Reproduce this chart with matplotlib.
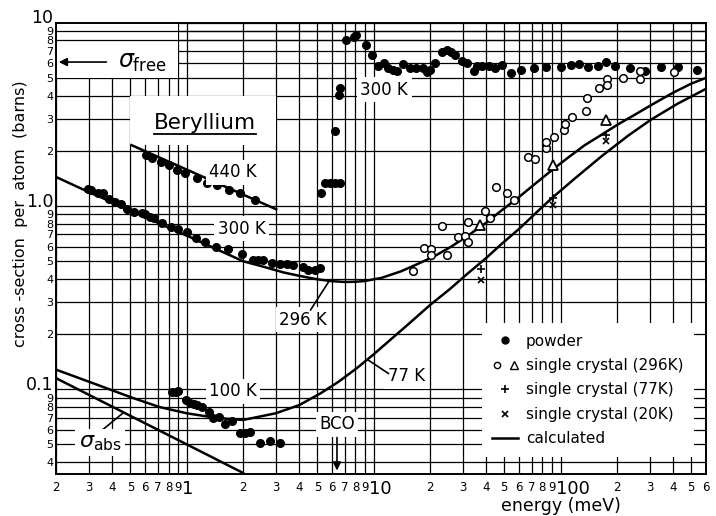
import numpy as np
import matplotlib
matplotlib.use("Agg")
import matplotlib.pyplot as plt
import matplotlib.transforms as mtransforms
from matplotlib.lines import Line2D
from matplotlib.patches import Rectangle
from matplotlib.legend_handler import HandlerTuple
from matplotlib.ticker import FixedLocator, FuncFormatter

plt.rcParams["font.family"] = "DejaVu Sans"
plt.rcParams["mathtext.fontset"] = "dejavusans"

# ==== data (energy in meV, cross-section in barns) ====
# powder, 300 K below the Bragg cut-off
e_pow300 = [0.298, 0.308, 0.335, 0.355, 0.382, 0.412, 0.448, 0.480, 0.521, 0.578,
            0.602, 0.640, 0.667, 0.734, 0.820, 0.902, 1.01, 1.12, 1.25, 1.44,
            1.67, 1.97, 2.27, 2.41, 2.56, 2.86, 3.16, 3.45, 3.71, 4.2, 4.47, 4.88, 5.19]
s_pow300 = [1.24, 1.22, 1.18, 1.17, 1.09, 1.05, 1.03, 0.96, 0.93, 0.92,
            0.90, 0.87, 0.86, 0.81, 0.77, 0.75, 0.72, 0.67, 0.64, 0.60,
            0.58, 0.55, 0.51, 0.51, 0.51, 0.486, 0.482, 0.482, 0.476, 0.466, 0.45, 0.45, 0.457]
# powder, 300 K through the Bragg edge and above
e_pow_hi = [5.24, 5.52, 5.87, 6.24, 6.58, 6.24, 6.52, 6.64, 7.14, 7.84, 8.08,
            9.09, 9.76, 10.5, 11.3, 12.0, 12.7, 13.3, 14.4, 15.6, 16.9, 18.3, 19.3,
            20.1, 21.4, 23.2, 24.7, 25.9, 27.4, 29.7, 31.6, 34.4, 35.8, 38.1, 41.4,
            44.4, 48.8, 54.0, 61.7, 72.2, 83.4, 100, 114, 126, 140, 158, 175, 195,
            234, 284, 346, 426, 534]
s_pow_hi = [1.17, 1.33, 1.33, 1.33, 1.33, 2.58, 4.01, 4.40, 8.05, 8.40, 8.57,
            7.57, 6.67, 5.77, 6.01, 5.69, 5.53, 5.46, 5.93, 5.65, 5.65, 5.65, 5.37,
            5.53, 6.01, 6.96, 7.11, 6.96, 6.67, 6.19, 6.01, 5.46, 5.77, 5.84, 5.81,
            5.69, 5.89, 5.30, 5.53, 5.65, 5.72, 5.72, 5.89, 5.93, 5.72, 5.77, 6.09, 5.81,
            5.65, 5.46, 5.72, 5.72, 5.53]
# powder, 440 K
e_pow440 = [0.607, 0.654, 0.725, 0.803, 0.891, 0.979, 1.13, 1.29, 1.46, 1.68, 1.94, 2.32]
s_pow440 = [1.89, 1.82, 1.74, 1.67, 1.58, 1.51, 1.43, 1.34, 1.30, 1.23, 1.17, 1.08]
# powder, 100 K
e_pow100 = [0.838, 0.873, 0.898, 0.996, 1.045, 1.09, 1.14, 1.21, 1.31, 1.38, 1.49,
            1.60, 1.74, 1.93, 2.05, 2.17, 2.47, 2.79, 3.16]
s_pow100 = [0.0963, 0.097, 0.0984, 0.0879, 0.0846, 0.0829, 0.0818, 0.0801, 0.0750,
            0.0698, 0.0705, 0.0643, 0.0670, 0.0579, 0.0579, 0.0586, 0.0511, 0.0521, 0.0511]

# single crystal 296 K (circles and triangles), 77 K (+), 20 K (x)
e_sc296 = [16.3, 18.6, 20.2, 20.4, 23.1, 24.7, 28.2, 30.8, 32.1, 32.1, 39.5, 42.2,
           45.3, 51.9, 56.1, 67.0, 72.8, 83.4, 83.4, 92.1, 104, 106, 115, 137, 138,
           161, 177, 177, 215, 265, 265, 405]
s_sc296 = [0.44, 0.59, 0.58, 0.54, 0.78, 0.54, 0.68, 0.69, 0.82, 0.635, 0.94, 0.86,
           1.27, 1.18, 1.08, 1.85, 1.81, 2.06, 2.24, 2.37, 2.59, 2.81, 3.06, 3.31, 3.88,
           4.43, 4.94, 4.59, 4.98, 5.42, 4.94, 5.35]
e_sc296_tri = [37.3, 90.6, 175]
s_sc296_tri = [0.785, 1.67, 2.96]
e_sc77 = [37.6, 90.6, 175]
s_sc77 = [0.453, 1.11, 2.45]
e_sc20 = [37.6, 91.5, 175]
s_sc20 = [0.395, 1.01, 2.26]

# calculated curves
e_calc300 = [0.2, 0.3, 0.5, 0.7, 1.0, 1.4, 2.0, 2.6, 3.3, 4.0, 5.0, 6.0, 7.0, 8.0,
             9.0, 11, 14, 17, 21, 26, 32, 40, 48, 60, 73, 90, 110, 135, 166, 202,
             250, 305, 400, 500, 600]
s_calc300 = [1.44, 1.19, 0.95, 0.81, 0.69, 0.59, 0.50, 0.465, 0.434, 0.416, 0.398,
             0.389, 0.385, 0.386, 0.39, 0.405, 0.44, 0.48, 0.53, 0.60, 0.69, 0.81,
             0.94, 1.12, 1.32, 1.57, 1.84, 2.15, 2.45, 2.78, 3.15, 3.55, 4.15, 4.65, 5.0]
e_calc440 = [0.506, 3.01]
s_calc440 = [2.15, 0.96]
e_calc77 = [0.2, 0.3, 0.515, 0.716, 1.0, 1.33, 1.65, 2.0, 3.0, 4.0, 5.2, 6.5, 8.1,
            10, 12.2, 15, 20.1, 25.4, 31.6, 40, 48.3, 60, 75, 89.5, 120, 166, 230,
            305, 420, 600]
s_calc77 = [0.128, 0.110, 0.0897, 0.080, 0.074, 0.0707, 0.069, 0.068, 0.074, 0.082,
            0.095, 0.110, 0.130, 0.155, 0.185, 0.222, 0.289, 0.350, 0.425, 0.52, 0.62,
            0.75, 0.93, 1.10, 1.42, 1.87, 2.42, 2.96, 3.6, 4.36]
e_abs = [0.2, 2.0]
s_abs = [0.115, 0.035]

sigma_free = 6.1
e_bco = 6.37

# ==== figure ====
fig = plt.figure(figsize=(7.16, 5.16), dpi=100)
ax = fig.add_axes([56 / 716, 1 - 474 / 516, 650 / 716, 451.3 / 516])
ax.set_xscale("log")
ax.set_yscale("log")
ax.set_xlim(0.2, 600)
ax.set_ylim(0.0345, 10)

# log-paper grid with labels on every line
xmaj = [1, 10, 100]
xmin = [m * 10.0 ** k for k in (-1, 0, 1, 2) for m in range(2, 10)]
xmin = [v for v in xmin if 0.2 <= v <= 600]
ymaj = [0.1, 1.0, 10]
ymin = [m * 10.0 ** k for k in (-2, -1, 0) for m in range(2, 10)]
ymin = [v for v in ymin if 0.0345 <= v <= 10]


def first_digit(v, p):
    return f"{round(v / 10 ** np.floor(np.log10(v) + 1e-9)):d}"


ax.xaxis.set_major_locator(FixedLocator(xmaj))
ax.xaxis.set_minor_locator(FixedLocator(xmin))
ax.yaxis.set_major_locator(FixedLocator(ymaj))
ax.yaxis.set_minor_locator(FixedLocator(ymin))
ax.xaxis.set_major_formatter(FuncFormatter(lambda v, p: f"{v:g}"))
ax.xaxis.set_minor_formatter(FuncFormatter(first_digit))
ax.yaxis.set_major_formatter(FuncFormatter(lambda v, p: {0.1: "0.1", 1.0: "1.0", 10: "10"}.get(v, "")))
ax.yaxis.set_minor_formatter(FuncFormatter(first_digit))
ax.tick_params(which="both", length=0)
ax.tick_params(axis="x", which="major", labelsize=13, pad=4)
ax.tick_params(axis="x", which="minor", labelsize=8.5, pad=5)
ax.tick_params(axis="y", which="major", labelsize=12.5, pad=2)
ax.tick_params(axis="y", which="minor", labelsize=8, pad=2)
shift_x = mtransforms.ScaledTranslation(-3 / 72, 0, fig.dpi_scale_trans)
for lab in ax.xaxis.get_majorticklabels():
    lab.set_horizontalalignment("left")
    lab.set_transform(lab.get_transform() + shift_x)
shift_y = mtransforms.ScaledTranslation(0, 4.5 / 72, fig.dpi_scale_trans)
for lab in ax.yaxis.get_majorticklabels():
    lab.set_transform(lab.get_transform() + shift_y)
ax.grid(which="both", color="black", lw=0.9)
ax.set_axisbelow(True)
for sp in ax.spines.values():
    sp.set_linewidth(1.4)

# white areas of the original drawing
ax.add_patch(Rectangle((0.2, 5.0), 0.9 - 0.2, 10 - 5.0, facecolor="white",
                       edgecolor="none", zorder=1))
ax.add_patch(Rectangle((0.5, 2.15), 3.0 - 0.5, 4.0 - 2.15, facecolor="white",
                       edgecolor="none", zorder=1))
for yl in (8, 9):
    ax.axhline(yl, color="black", lw=0.9, zorder=1.5)

# calculated lines
lw = 1.8
ax.plot(e_calc300, s_calc300, color="black", lw=lw, zorder=3)
ax.plot(e_calc440, s_calc440, color="black", lw=lw, zorder=3)
ax.plot(e_calc77, s_calc77, color="black", lw=lw, zorder=3)
ax.plot(e_abs, s_abs, color="black", lw=lw, zorder=3)

# measurements
ms = 5.5
for e, s in [(e_pow300, s_pow300), (e_pow_hi, s_pow_hi), (e_pow440, s_pow440), (e_pow100, s_pow100)]:
    ax.plot(e, s, "o", color="black", ms=ms, zorder=4, ls="none")
ax.plot(e_sc296, s_sc296, "o", mfc="white", mec="black", mew=1.1, ms=5.5, ls="none", zorder=4)
ax.plot(e_sc296_tri, s_sc296_tri, "^", mfc="white", mec="black", mew=1.3, ms=7, ls="none", zorder=4)
ax.plot(e_sc77, s_sc77, "+", color="black", mew=1.2, ms=6, ls="none", zorder=4)
ax.plot(e_sc20, s_sc20, "x", color="black", mew=1.2, ms=4.5, ls="none", zorder=4)

# labels
box = dict(facecolor="white", edgecolor="none", pad=2.5)
t = ax.text(1.25, 2.83, "Beryllium", fontsize=15.5, ha="center", va="center", zorder=5)
ax.text(1.77, 1.53, "440 K", fontsize=12, ha="center", va="center", bbox=box, zorder=5)
ax.text(1.97, 0.75, "300 K", fontsize=12, ha="center", va="center", bbox=box, zorder=5)
ax.text(11.4, 4.3, "300 K", fontsize=12, ha="center", va="center", bbox=box, zorder=5)
ax.text(1.77, 0.0975, "100 K", fontsize=12, ha="center", va="center", bbox=box, zorder=5)
ax.text(4.2, 0.24, "296 K", fontsize=12, ha="center", va="center", bbox=box, zorder=5)
ax.plot([4.6, 5.75], [0.271, 0.386], color="black", lw=1.2, zorder=5)
ax.text(15.0, 0.118, "77 K", fontsize=12, ha="center", va="center", bbox=box, zorder=5)
ax.plot([9.3, 12.0], [0.145, 0.122], color="black", lw=1.2, zorder=5)
ax.text(0.345, 0.051, r"$\sigma_{\rm abs}$", fontsize=16, ha="center", va="center", bbox=box, zorder=5)
ax.plot([0.34, 0.455], [0.058, 0.074], color="black", lw=1.2, zorder=4)
ax.text(e_bco, 0.0643, "BCO", fontsize=12, ha="center", va="center", bbox=box, zorder=5)
ax.annotate("", xy=(e_bco, 0.0348), xytext=(e_bco, 0.0565),
            arrowprops=dict(arrowstyle="-|>", color="black", lw=1.2, mutation_scale=12), zorder=5)
ax.annotate("", xy=(0.2, sigma_free), xytext=(0.385, sigma_free),
            arrowprops=dict(arrowstyle="-|>", color="black", lw=1.2, mutation_scale=12), zorder=5)
ax.text(0.43, sigma_free, r"$\sigma_{\rm free}$", fontsize=17, ha="left", va="center", zorder=5)

# underline for the title word
fig.canvas.draw()
bb = t.get_window_extent()
fig.add_artist(Line2D([bb.x0 / fig.dpi / 7.16, bb.x1 / fig.dpi / 7.16],
                      [(bb.y0 - 1) / fig.dpi / 5.16] * 2, color="black", lw=1.3, zorder=6))

# legend
h_pow = Line2D([], [], marker="o", color="black", ls="none", ms=5)
h_c = Line2D([], [], marker="o", mfc="white", mec="black", ls="none", ms=4.5)
h_t = Line2D([], [], marker="^", mfc="white", mec="black", ls="none", ms=6)
h_p = Line2D([], [], marker="+", color="black", ls="none", ms=6, mew=1.2)
h_x = Line2D([], [], marker="x", color="black", ls="none", ms=4.5, mew=1.2)
h_l = Line2D([], [], color="black", lw=1.8)
leg = ax.legend([h_pow, (h_c, h_t), h_p, h_x, h_l],
                ["powder", "single crystal (296K)", "single crystal (77K)",
                 "single crystal (20K)", "calculated"],
                handler_map={tuple: HandlerTuple(ndivide=None, pad=0.6)},
                loc="upper left", bbox_to_anchor=(0.655, 0.335), fontsize=11,
                frameon=True, fancybox=False, handlelength=1.7, handletextpad=0.5,
                labelspacing=0.62, borderpad=0.7, borderaxespad=0)
leg.get_frame().set_edgecolor("none")
leg.get_frame().set_facecolor("white")
leg.get_frame().set_alpha(1.0)
leg.set_zorder(6)

fig.text(0.029, 0.585, "cross -section  per  atom  (barns)", rotation=90,
         fontsize=11.5, ha="center", va="center")
fig.text(0.783, 0.02, "energy (meV)", fontsize=12.5, ha="center", va="center")

fig.savefig("out.png", dpi=100)
